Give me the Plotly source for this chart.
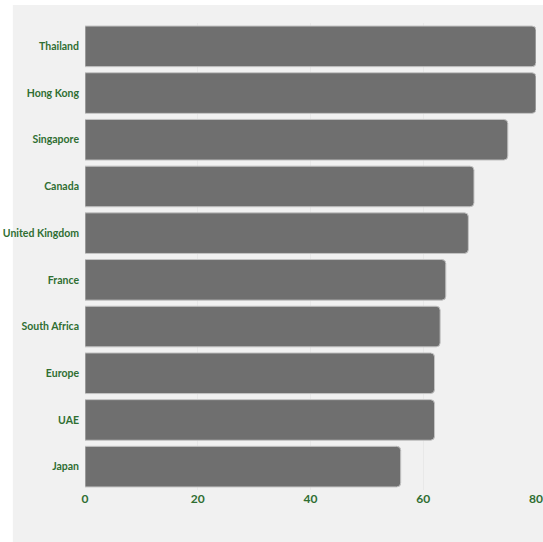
import plotly.graph_objects as go

countries = ["Thailand", "Hong Kong", "Singapore", "Canada", "United Kingdom",
             "France", "South Africa", "Europe", "UAE", "Japan"]
values = [80, 80, 75, 69, 68, 64, 63, 62, 62, 56]
x_ticks = [0, 20, 40, 60, 80]

fig = go.Figure(go.Bar(
    x=values, y=countries, orientation="h",
    marker=dict(color="#6f6f6f", line=dict(color="#c4c4c4", width=1), cornerradius=4),
    hoverinfo="x+y",
))

green = "#2f6e32"
fig.update_layout(
    width=543, height=542,
    margin=dict(l=85, r=7, t=23, b=52, autoexpand=False),
    paper_bgcolor="#ffffff",
    plot_bgcolor="rgba(0,0,0,0)",
    bargap=0.13,
    showlegend=False,
    shapes=[dict(type="rect", xref="paper", yref="paper",
                 x0=-0.16, x1=1.02, y0=-0.12, y1=1.0385,
                 fillcolor="#f1f1f1", line=dict(width=0), layer="below")],
    xaxis=dict(range=[0, 80], tickvals=x_ticks, showgrid=True, gridcolor="#e8e8e8",
               zeroline=False, showline=False, ticks="", automargin=False,
               tickfont=dict(family="Lato", size=12, color=green, weight="bold")),
    yaxis=dict(autorange="reversed", showgrid=False, ticks="", ticklabelstandoff=5,
               automargin=False,
               tickfont=dict(family="Lato", size=10.5, color=green, weight="bold")),
)

fig.write_html("out.html", config={"displayModeBar": False},
               post_script="document.body.style.margin='0';")
